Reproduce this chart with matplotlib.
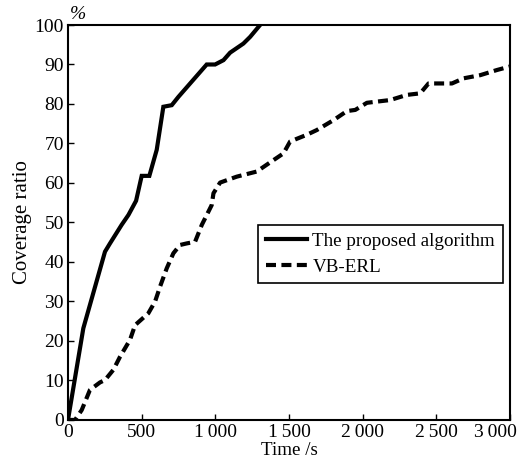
import matplotlib
matplotlib.use("Agg")
import matplotlib.pyplot as plt
import matplotlib.transforms as mtransforms

# Data
prop_t = [0, 104, 251, 285, 364, 410, 462, 500, 552, 602, 647, 704, 749, 941, 998, 1055, 1100, 1190, 1236, 1303]
prop_c = [0, 23.2, 42.6, 44.7, 49.4, 51.9, 55.5, 61.8, 61.8, 68.4, 79.3, 79.7, 81.8, 90, 90, 91.1, 93, 95.3, 97, 100]

vb_t = [0, 48, 93, 149, 217, 251, 308, 353, 421, 455, 545, 591, 625, 670, 715, 760, 806, 862, 908, 975,
        987, 1032, 1145, 1281, 1371, 1462, 1507, 1620, 1688, 1801, 1892, 1949, 2028, 2186, 2299, 2390,
        2446, 2605, 2684, 2797, 2910, 2989, 3000]
vb_c = [0, 0, 2.5, 7.6, 9.5, 10.1, 12.7, 16, 20.3, 24, 27, 30, 33.8, 38.4, 42.2, 44.3, 44.7, 45.1, 49.4, 54.4,
        57.4, 60.1, 61.6, 62.9, 65.2, 67.5, 70.5, 72.2, 73.4, 75.9, 78.2, 78.5, 80.3, 81, 82.3, 82.7,
        85.2, 85.2, 86.5, 87.3, 88.6, 89.4, 89.5]

x_ticks = [0, 500, 1000, 1500, 2000, 2500, 3000]
x_ticklabels = ["0", "500", "1\u2009000", "1\u2009500", "2\u2009000", "2\u2009500", "3\u2009000"]
y_ticks = [0, 10, 20, 30, 40, 50, 60, 70, 80, 90, 100]
series_names = ["The proposed algorithm", "VB-ERL"]

plt.rcParams['font.family'] = ['Liberation Serif', 'DejaVu Serif']

fig = plt.figure(figsize=(5.19, 4.63), dpi=100)
ax = fig.add_axes([0.131, 0.093, 0.852, 0.853])

ax.plot(prop_t, prop_c, color='black', lw=3.0, solid_joinstyle='miter', label=series_names[0])
ax.plot(vb_t, vb_c, color='black', lw=3.0, ls=(0, (2.4, 1.3)), label=series_names[1])

ax.set_xlim(0, 3000)
ax.set_ylim(0, 100)
ax.set_xticks(x_ticks)
ax.set_xticklabels(x_ticklabels)
ax.set_yticks(y_ticks)
ax.tick_params(direction='in', length=4, width=1, labelsize=14, pad=3,
               top=False, right=False)
for s in ax.spines.values():
    s.set_linewidth(1.5)

# shift the last x tick label left so it fits inside the figure
last = ax.get_xticklabels()[-1]
last.set_transform(last.get_transform() + mtransforms.ScaledTranslation(-15/100, 0, fig.dpi_scale_trans))

ax.set_xlabel("Time /s", fontsize=13.7, labelpad=1)
ax.set_ylabel("Coverage ratio", fontsize=15, labelpad=2)
ax.text(0.005, 1.005, "%", transform=ax.transAxes, fontsize=14, style='italic',
        ha='left', va='bottom')

leg = ax.legend(loc='upper left', bbox_to_anchor=(0.43, 0.494), fontsize=13.7,
                frameon=True, fancybox=False, edgecolor='black', framealpha=1,
                handlelength=2.15, borderpad=0.4, labelspacing=0.45, handletextpad=0.3,
                borderaxespad=0)
leg.get_frame().set_linewidth(1.2)

fig.savefig("out.png", dpi=100)
